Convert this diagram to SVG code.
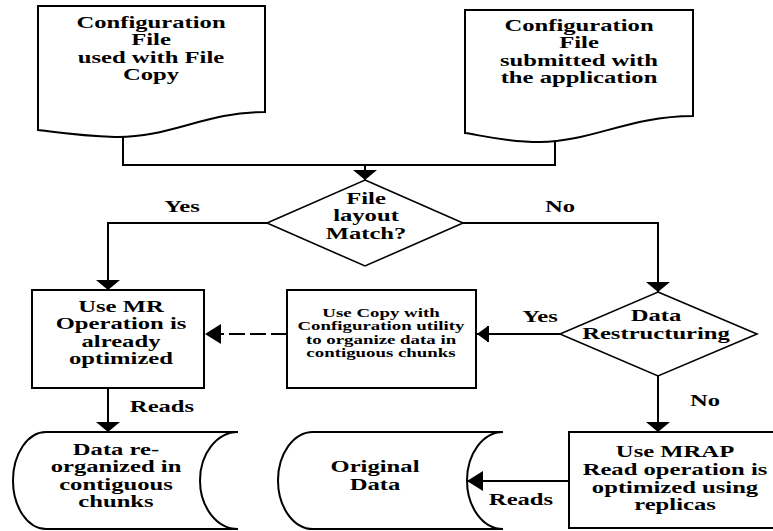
<svg xmlns="http://www.w3.org/2000/svg" width="773" height="531" viewBox="0 0 773 531">
<style>
.sh{fill:#fff;stroke:#000;stroke-width:2}
.dm{fill:#fff;stroke:#000;stroke-width:1.6}
.ln{fill:none;stroke:#000;stroke-width:2}
text{font-family:'Liberation Serif','DejaVu Serif',serif;font-weight:700;font-size:17px;text-anchor:middle;fill:#000}
.s{font-size:13px}
</style>
<defs>
<marker id="aV" markerUnits="userSpaceOnUse" viewBox="-10 -12 11 24" refX="0" refY="0" markerWidth="11" markerHeight="24" orient="auto">
<path d="M-10,-12 L0,0 L-10,12 Z" fill="#000"/>
</marker>
<marker id="aH" markerUnits="userSpaceOnUse" viewBox="-16 -10 17 20" refX="0" refY="0" markerWidth="17" markerHeight="20" orient="auto">
<path d="M-16,-10 L0,0 L-16,10 Z" fill="#000"/>
</marker>
<marker id="aT" markerUnits="userSpaceOnUse" viewBox="-14 -10 15 20" refX="0" refY="0" markerWidth="15" markerHeight="20" orient="auto">
<path d="M-11,-8 L0,0 L-11,8 Z" fill="#000"/>
<path d="M-11,-8 V8" stroke="#000" stroke-width="2"/>
</marker>
</defs>

<g id="connectors">
<path class="ln" d="M123,136 V165 H555 V140"/>
<path class="ln" d="M365,165 V180" marker-end="url(#aV)"/>
<path class="ln" d="M267,223 H108 V290" marker-end="url(#aV)"/>
<path class="ln" d="M462,223 H658 V292" marker-end="url(#aV)"/>
<path class="ln" d="M287,334 H205" stroke-dasharray="16,5" marker-end="url(#aH)"/>
<path class="ln" d="M560,334 H477" marker-end="url(#aT)"/>
<path class="ln" d="M658,376 V432" marker-end="url(#aV)"/>
<path class="ln" d="M108,388 V432" marker-end="url(#aV)"/>
<path class="ln" d="M569,481 H467" marker-end="url(#aH)"/>
<text transform="translate(182,212) scale(1.45,1)">Yes</text>
<text transform="translate(560,212) scale(1.45,1)">No</text>
<text transform="translate(540,322) scale(1.45,1)">Yes</text>
<text transform="translate(705,406) scale(1.45,1)">No</text>
<text transform="translate(162,412) scale(1.45,1)">Reads</text>
<text transform="translate(521,505) scale(1.45,1)">Reads</text>
</g>

<g id="doc1">
<path class="sh" d="M38,6 H265 V112 C205,112 170,138 115,137 C80,136 55,132 38,130 Z"/>
<text transform="translate(151,0) scale(1.45,1)"><tspan x="0" y="28">Configuration</tspan><tspan x="0" y="45.5">File</tspan><tspan x="0" y="63">used with File</tspan><tspan x="0" y="80.5">Copy</tspan></text>
</g>

<g id="doc2">
<path class="sh" d="M465,10 H693 V116 C630,116 590,142 540,142 C505,142 480,135 465,133 Z"/>
<text transform="translate(579,0) scale(1.45,1)"><tspan x="0" y="31">Configuration</tspan><tspan x="0" y="48.5">File</tspan><tspan x="0" y="66">submitted with</tspan><tspan x="0" y="83.5">the application</tspan></text>
</g>

<g id="decision1">
<path class="dm" d="M365,180 L463,223 L365,266 L267,223 Z"/>
<text transform="translate(366,0) scale(1.45,1)"><tspan x="0" y="204">File</tspan><tspan x="0" y="221.5">layout</tspan><tspan x="0" y="239">Match?</tspan></text>
</g>

<g id="mr">
<rect class="sh" x="32" y="290" width="172" height="98"/>
<text transform="translate(121,0) scale(1.45,1)"><tspan x="0" y="312">Use MR</tspan><tspan x="0" y="329.5">Operation is</tspan><tspan x="0" y="347">already</tspan><tspan x="0" y="364.5">optimized</tspan></text>
</g>

<g id="copy">
<rect class="sh" x="287" y="290" width="189" height="98"/>
<text class="s" transform="translate(381,0) scale(1.45,1)"><tspan x="0" y="317">Use Copy with</tspan><tspan x="0" y="330.5">Configuration utility</tspan><tspan x="0" y="344">to organize data in</tspan><tspan x="0" y="357.5">contiguous chunks</tspan></text>
</g>

<g id="decision2">
<path class="dm" d="M658,292 L757,334 L658,376 L560,334 Z"/>
<text transform="translate(656,0) scale(1.45,1)"><tspan x="0" y="321.5">Data</tspan><tspan x="0" y="339">Restructuring</tspan></text>
</g>

<g id="mrap">
<rect class="sh" x="569" y="432" width="214" height="96"/>
<text transform="translate(675,0) scale(1.45,1)"><tspan x="0" y="457">Use MRAP</tspan><tspan x="0" y="475">Read operation is</tspan><tspan x="0" y="493">optimized using</tspan><tspan x="0" y="510.5">replicas</tspan></text>
</g>

<g id="reorganized">
<path class="sh" d="M46,432 H238 A38,48.5 0 0 0 238,529 H46 A33,48.5 0 0 1 46,432 Z"/>
<text transform="translate(116,0) scale(1.45,1)"><tspan x="0" y="455">Data re-</tspan><tspan x="0" y="472.5">organized in</tspan><tspan x="0" y="490">contiguous</tspan><tspan x="0" y="507.5">chunks</tspan></text>
</g>

<g id="original">
<path class="sh" d="M313,432 H503 A36,48.5 0 0 0 503,529 H313 A35,48.5 0 0 1 313,432 Z"/>
<text transform="translate(375,0) scale(1.45,1)"><tspan x="0" y="472">Original</tspan><tspan x="0" y="490">Data</tspan></text>
</g>
</svg>
